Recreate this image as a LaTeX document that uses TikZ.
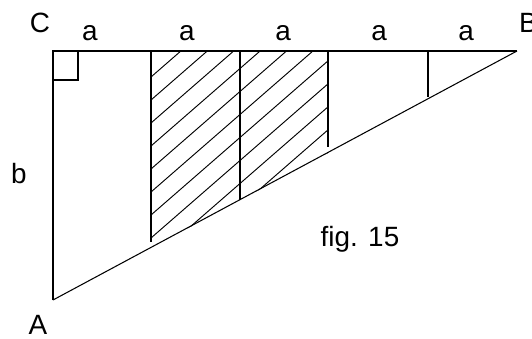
\documentclass[tikz,border=0pt]{standalone}
\usepackage{fontspec}
\setsansfont{Liberation Sans}
\usetikzlibrary{positioning}

\begin{document}
\begin{tikzpicture}[
  x=0.03cm, y=-0.03cm,
  font=\sffamily\fontsize{23.8pt}{28pt}\selectfont,
  edge/.style={draw, line width=1.7pt},
  hyp/.style={draw, line width=0.9pt},
  hatch/.style={draw, line width=0.8pt},
  lbl/.style={inner sep=0pt, anchor=base},
]
\useasboundingbox (0,0) rectangle (532,339);

% corners of the triangle
\coordinate (C) at (53,51);
\coordinate (A) at (53,300);
\coordinate (B) at (517,51);

% strip lines, top and bottom ends
\coordinate (t1) at (151,51);  \coordinate (h1) at (151,242);
\coordinate (t2) at (240,51);  \coordinate (h2) at (240,200);
\coordinate (t3) at (328,51);  \coordinate (h3) at (328,147);
\coordinate (t4) at (428,51);  \coordinate (h4) at (428,97);

% hatched part
\begin{scope}
  \clip (t1) -- (t3) -- (328,153) -- (151,248) -- cycle;
  \foreach \y in {77,100,...,400}
    \draw[hatch] (151,\y) -- ++(240,-209);
\end{scope}

\draw[edge] (A) -- (C) -- (B);
\draw[hyp] (A) -- (B);
\foreach \i in {1,...,4}
  \draw[edge] (t\i) -- (h\i);

% right angle mark
\draw[edge] (53,80) -- (78,80) -- (78,51);

% labels
\node[lbl] (labC) at (40,33) {C};
\node[lbl, anchor=base west] (labB) at (519,33) {B};
\node[lbl] (labA) at (38,334) {A};
\node[lbl] (labb) at (19,183) {b};
\node[lbl] (a1) at (90,41) {a};
\node[lbl] (a2) at (187,41) {a};
\node[lbl] (a3) at (283,41) {a};
\node[lbl] (a4) at (379,41) {a};
\node[lbl] (a5) at (466,41) {a};
\node[lbl] (fig) at (360,246) {fig. 15};

\end{tikzpicture}
\end{document}
